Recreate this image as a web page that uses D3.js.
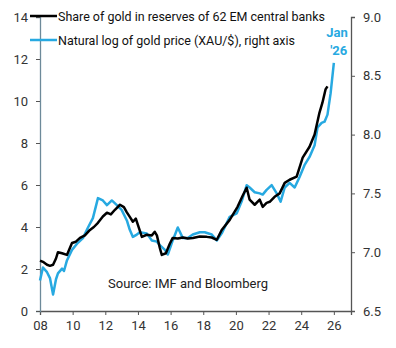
<!DOCTYPE html>
<html>
<head>
<meta charset="utf-8">
<script src="https://cdn.jsdelivr.net/npm/d3@7"></script>
<style>
  body { margin: 0; background: #fff; }
  text { font-family: Roboto, "Liberation Sans", sans-serif; }
</style>
</head>
<body>
<div id="chart"></div>
<script>
// share of gold in reserves of 62 EM central banks (%), left axis
var shareYears = [2008.0, 2008.18, 2008.43, 2008.61, 2008.8, 2008.98, 2009.1, 2009.35, 2009.65, 2009.83,
    2009.96, 2010.2, 2010.45, 2010.75, 2011.06, 2011.3, 2011.55, 2011.85, 2012.1, 2012.34,
    2012.59, 2012.9, 2013.14, 2013.32, 2013.5, 2013.69, 2013.87, 2014.24, 2014.54, 2014.85,
    2015.03, 2015.16, 2015.34, 2015.46, 2015.71, 2015.95, 2016.13, 2016.44, 2016.75, 2017.05,
    2017.36, 2017.79, 2018.21, 2018.52, 2018.83, 2019.13, 2019.62, 2020.1, 2020.42, 2020.66,
    2020.84, 2021.15, 2021.46, 2021.64, 2021.88, 2022.07, 2022.37, 2022.68, 2022.99, 2023.29,
    2023.72, 2024.09, 2024.51, 2024.82, 2025.12, 2025.3, 2025.49, 2025.61];
var shareValues = [2.4, 2.34, 2.2, 2.15, 2.2, 2.5, 2.8, 2.75, 2.67, 3.0,
    3.24, 3.3, 3.48, 3.6, 3.86, 4.0, 4.2, 4.5, 4.68, 4.6,
    4.82, 5.06, 4.95, 4.7, 4.48, 4.25, 4.4, 3.53, 3.63, 3.6,
    3.77, 3.6, 3.0, 2.67, 2.75, 3.2, 3.48, 3.45, 3.5, 3.45,
    3.48, 3.55, 3.53, 3.5, 3.39, 3.86, 4.34, 4.96, 5.5, 5.87,
    5.3, 5.06, 5.3, 4.96, 5.15, 5.2, 5.44, 5.6, 6.1, 6.25,
    6.4, 7.3, 7.82, 8.4, 9.45, 9.92, 10.55, 10.7];

// natural log of gold price (XAU/$), right axis
var goldYears = [2008.0, 2008.18, 2008.43, 2008.61, 2008.8, 2008.98, 2009.1, 2009.35, 2009.47, 2009.65,
    2009.96, 2010.32, 2010.63, 2010.94, 2011.24, 2011.55, 2011.85, 2012.1, 2012.4, 2012.71,
    2013.0, 2013.32, 2013.5, 2013.69, 2013.93, 2014.12, 2014.54, 2014.85, 2015.16, 2015.34,
    2015.65, 2015.83, 2016.13, 2016.44, 2016.75, 2017.05, 2017.36, 2017.79, 2018.09, 2018.52,
    2018.83, 2019.13, 2019.62, 2020.05, 2020.35, 2020.66, 2020.84, 2021.15, 2021.46, 2021.64,
    2021.88, 2022.19, 2022.5, 2022.74, 2022.99, 2023.29, 2023.6, 2023.9, 2024.2, 2024.51,
    2024.82, 2025.0, 2025.25, 2025.43, 2025.61, 2025.8, 2026.0];
var goldValues = [6.76, 6.87, 6.83, 6.78, 6.64, 6.77, 6.82, 6.86, 6.84, 6.93,
    7.02, 7.08, 7.12, 7.21, 7.29, 7.46, 7.44, 7.40, 7.44, 7.40,
    7.36, 7.27, 7.19, 7.13, 7.15, 7.17, 7.16, 7.10, 7.09, 7.06,
    7.02, 6.98, 7.10, 7.21, 7.12, 7.12, 7.15, 7.17, 7.17, 7.15,
    7.10, 7.16, 7.30, 7.33, 7.43, 7.57, 7.55, 7.51, 7.50, 7.49,
    7.53, 7.57, 7.50, 7.43, 7.55, 7.59, 7.55, 7.64, 7.74, 7.81,
    7.91, 8.06, 8.10, 8.11, 8.17, 8.35, 8.61];

var xTicks = [2008, 2010, 2012, 2014, 2016, 2018, 2020, 2022, 2024, 2026];
var leftTicks = [0, 2, 4, 6, 8, 10, 12, 14];
var rightTicks = [6.5, 7.0, 7.5, 8.0, 8.5, 9.0];

var width = 396, height = 348;
var margin = { top: 17, right: 45, bottom: 37, left: 40 };

var svg = d3.select("#chart").append("svg")
    .attr("width", width)
    .attr("height", height);

var x = d3.scaleLinear().domain([2008, 2027.05]).range([margin.left, width - margin.right]);
var yL = d3.scaleLinear().domain([0, 14]).range([height - margin.bottom, margin.top]);
var yR = d3.scaleLinear().domain([6.5, 9.0]).range([height - margin.bottom, margin.top]);

// axes
var gx = svg.append("g")
    .attr("transform", "translate(0," + (height - margin.bottom) + ")")
    .call(d3.axisBottom(x).tickValues(xTicks).tickSize(4).tickPadding(6)
        .tickFormat(function (d) { return String(d).slice(2); }));
gx.select(".domain").attr("stroke", "#555").attr("stroke-width", 1.3);
gx.selectAll(".tick line").attr("stroke", "#555");

var gl = svg.append("g")
    .attr("transform", "translate(" + margin.left + ",0)")
    .call(d3.axisLeft(yL).tickValues(leftTicks).tickSize(4).tickPadding(8));
gl.select(".domain").attr("stroke", "#6d8a9a").attr("stroke-width", 1.3);
gl.selectAll(".tick line").attr("stroke", "#555");

var gr = svg.append("g")
    .attr("transform", "translate(" + (width - margin.right) + ",0)")
    .call(d3.axisRight(yR).tickValues(rightTicks).tickSize(4).tickPadding(8).tickFormat(d3.format(".1f")));
gr.select(".domain").attr("stroke", "#555").attr("stroke-width", 1.3);
gr.selectAll(".tick line").attr("stroke", "#555");

svg.selectAll(".tick text").attr("font-size", 13).attr("fill", "#333")
    .style("font-family", "Roboto, sans-serif");

// lines
var goldLine = d3.line()
    .x(function (d, i) { return x(goldYears[i]); })
    .y(function (d) { return yR(d); });
var shareLine = d3.line()
    .x(function (d, i) { return x(shareYears[i]); })
    .y(function (d) { return yL(d); });

svg.append("path").datum(goldValues)
    .attr("d", goldLine)
    .attr("fill", "none")
    .attr("stroke", "#27a9e1")
    .attr("stroke-width", 2.5)
    .attr("stroke-linejoin", "round");

svg.append("path").datum(shareValues)
    .attr("d", shareLine)
    .attr("fill", "none")
    .attr("stroke", "#000")
    .attr("stroke-width", 2.5)
    .attr("stroke-linejoin", "round");

// legend
var legend = [
    { label: "Share of gold in reserves of 62 EM central banks", color: "#000", y: 16, w: 267 },
    { label: "Natural log of gold price (XAU/$), right axis", color: "#27a9e1", y: 40, w: 237 }
];
legend.forEach(function (d) {
    svg.append("line")
        .attr("x1", 30).attr("x2", 57)
        .attr("y1", d.y).attr("y2", d.y)
        .attr("stroke", d.color).attr("stroke-width", 2.5);
    svg.append("text")
        .attr("x", 58).attr("y", d.y + 5)
        .attr("font-size", 13.5)
        .attr("fill", "#111")
        .attr("textLength", d.w)
        .attr("lengthAdjust", "spacingAndGlyphs")
        .text(d.label);
});

// end label
svg.append("text")
    .attr("x", x(2026.2)).attr("y", 37)
    .attr("text-anchor", "middle")
    .attr("font-size", 13).attr("font-weight", "bold")
    .attr("fill", "#27a9e1")
    .text("Jan");
svg.append("text")
    .attr("x", x(2026.3)).attr("y", 55)
    .attr("text-anchor", "middle")
    .attr("font-size", 13).attr("font-weight", "bold")
    .attr("fill", "#27a9e1")
    .text("'26");

// source
svg.append("text")
    .attr("x", 108).attr("y", 288)
    .attr("font-size", 13)
    .attr("fill", "#222")
    .text("Source: IMF and Bloomberg");
</script>
</body>
</html>
